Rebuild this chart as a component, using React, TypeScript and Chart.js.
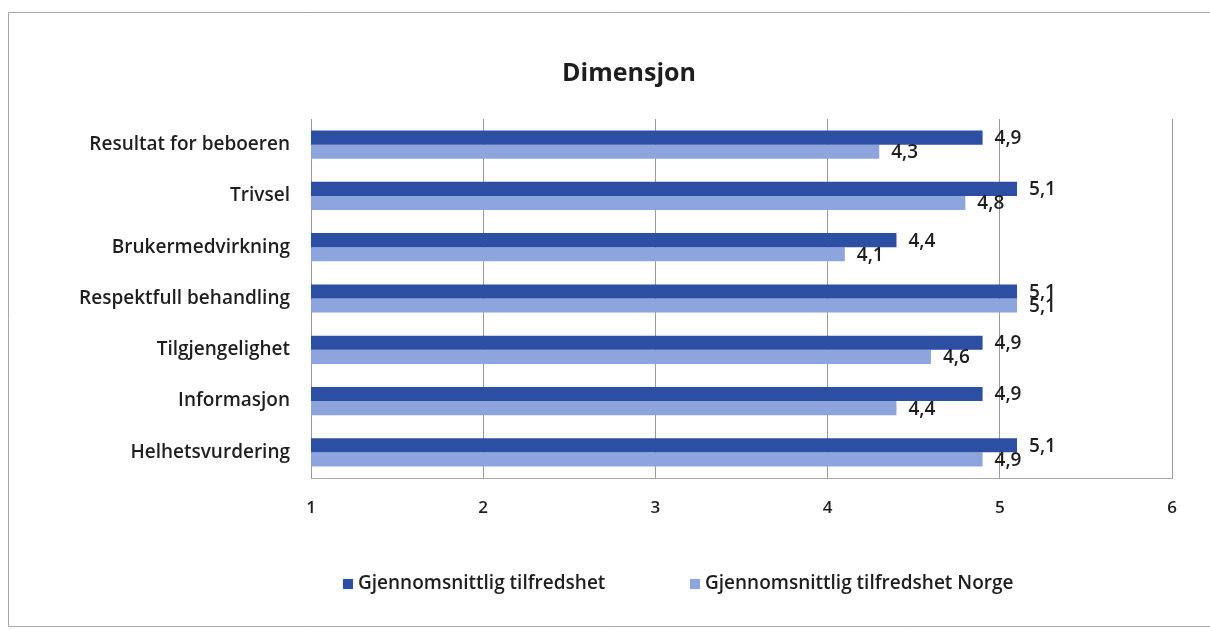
import { useEffect, useRef } from "react";
import { Chart, registerables } from "chart.js";

Chart.register(...registerables);

// Survey dimensions and average satisfaction scores
const categories = [
  "Resultat for beboeren",
  "Trivsel",
  "Brukermedvirkning",
  "Respektfull behandling",
  "Tilgjengelighet",
  "Informasjon",
  "Helhetsvurdering",
];
const tilfredshet = [4.9, 5.1, 4.4, 5.1, 4.9, 4.9, 5.1];
const tilfredshetNorge = [4.3, 4.8, 4.1, 5.1, 4.6, 4.4, 4.9];
const seriesNames = ["Gjennomsnittlig tilfredshet", "Gjennomsnittlig tilfredshet Norge"];
const seriesColors = ["#2c4ea3", "#8ea4dc"];
const scaleMin = 1;
const scaleMax = 6;
const chartTitle = "Dimensjon";

const FONT = "'Open Sans', Lato, sans-serif";
const TEXT = "#1e1e1e";

const formatValue = (v: number) => v.toFixed(1).replace(".", ",");

// Thin grey frame around the whole chart, plus the title above the plot
const framePlugin = {
  id: "frame",
  beforeDraw(chart: any) {
    const { ctx } = chart;
    ctx.save();
    ctx.strokeStyle = "#a6a6a6";
    ctx.lineWidth = 1;
    ctx.beginPath();
    ctx.moveTo(1210, 12.5);
    ctx.lineTo(8.5, 12.5);
    ctx.lineTo(8.5, 626.5);
    ctx.lineTo(1210, 626.5);
    ctx.stroke();
    ctx.font = `bold 25px ${FONT}`;
    ctx.fillStyle = TEXT;
    ctx.textAlign = "center";
    ctx.textBaseline = "middle";
    ctx.fillText(chartTitle, 629, 74);
    ctx.restore();
  },
};

// Value labels to the right of each bar
const valueLabelPlugin = {
  id: "valueLabels",
  afterDatasetsDraw(chart: any) {
    const { ctx } = chart;
    ctx.save();
    ctx.font = `600 19px ${FONT}`;
    ctx.fillStyle = TEXT;
    ctx.textAlign = "left";
    ctx.textBaseline = "middle";
    chart.data.datasets.forEach((ds: any, i: number) => {
      const meta = chart.getDatasetMeta(i);
      meta.data.forEach((bar: any, j: number) => {
        ctx.fillText(formatValue(ds.data[j]), bar.x + 12, bar.y + 1);
      });
    });
    ctx.restore();
  },
};

// Legend drawn below the axis, square swatches followed by the series name
const legendPlugin = {
  id: "bottomLegend",
  afterDraw(chart: any) {
    const { ctx } = chart;
    const starts = [343, 690];
    const y = 584;
    ctx.save();
    ctx.font = `600 19px ${FONT}`;
    ctx.textBaseline = "middle";
    ctx.textAlign = "left";
    chart.data.datasets.forEach((ds: any, i: number) => {
      ctx.fillStyle = ds.backgroundColor;
      ctx.fillRect(starts[i], y - 5, 10, 10);
      ctx.fillStyle = TEXT;
      ctx.fillText(ds.label, starts[i] + 15, y);
    });
    ctx.restore();
  },
};

export default function App() {
  const canvasRef = useRef<HTMLCanvasElement | null>(null);

  useEffect(() => {
    if (!canvasRef.current) return;
    const chart = new Chart(canvasRef.current, {
      type: "bar",
      data: {
        labels: categories,
        datasets: [
          {
            label: seriesNames[0],
            data: tilfredshet,
            backgroundColor: seriesColors[0],
            categoryPercentage: 0.55,
            barPercentage: 1,
          },
          {
            label: seriesNames[1],
            data: tilfredshetNorge,
            backgroundColor: seriesColors[1],
            categoryPercentage: 0.55,
            barPercentage: 1,
          },
        ],
      },
      options: {
        indexAxis: "y",
        responsive: false,
        animation: false,
        devicePixelRatio: 1,
        layout: { padding: { top: 119, left: 0, right: 38, bottom: 112 } },
        plugins: {
          legend: { display: false },
          tooltip: { enabled: false },
          title: { display: false },
        },
        scales: {
          x: {
            min: scaleMin,
            max: scaleMax,
            ticks: {
              stepSize: 1,
              color: TEXT,
              font: { family: FONT, size: 17, weight: "600" },
              padding: 20,
            },
            grid: { color: "#9a9a9a", lineWidth: 1, drawTicks: false },
            border: { display: true, color: "#a8a8a8" },
            afterFit(scale: any) {
              scale.height = 40;
            },
          },
          y: {
            ticks: {
              color: TEXT,
              font: { family: FONT, size: 19, weight: "600" },
              padding: 21,
            },
            grid: { display: false, drawTicks: false },
            border: { display: false },
            afterFit(scale: any) {
              scale.width = 311;
            },
          },
        },
      },
      plugins: [framePlugin, valueLabelPlugin, legendPlugin],
    });
    return () => chart.destroy();
  }, []);

  return (
    <div style={{ position: "absolute", left: 0, top: 0, width: 1210, height: 630, background: "#fff" }}>
      <canvas ref={canvasRef} width={1210} height={630} />
    </div>
  );
}
